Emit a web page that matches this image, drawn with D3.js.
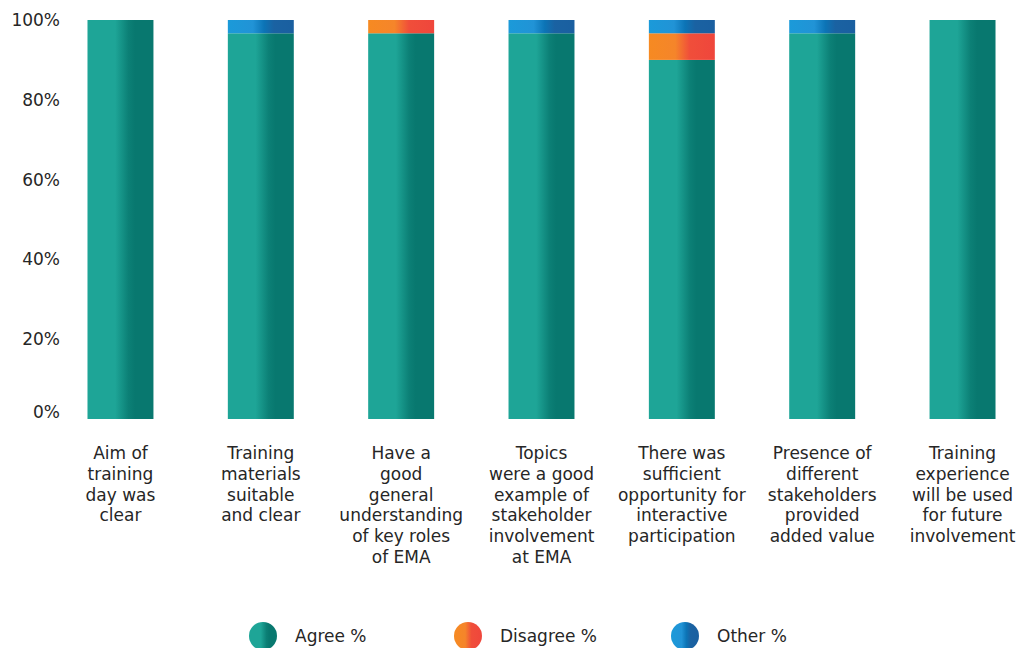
<!DOCTYPE html>
<html>
<head>
<meta charset="utf-8">
<script src="https://cdn.jsdelivr.net/npm/d3@7"></script>
<style>
  body { margin: 0; background: #fff; }
  text { font-family: "DejaVu Sans", Verdana, sans-serif; fill: #262626; }
</style>
</head>
<body>
<div id="chart"></div>
<script>
// categories (line breaks as in the picture)
const categories = [
    "Aim of\ntraining\nday was\nclear",
    "Training\nmaterials\nsuitable\nand clear",
    "Have a\ngood\ngeneral\nunderstanding\nof key roles\nof EMA",
    "Topics\nwere a good\nexample of\nstakeholder\ninvolvement\nat EMA",
    "There was\nsufficient\nopportunity for\ninteractive\nparticipation",
    "Presence of\ndifferent\nstakeholders\nprovided\nadded value",
    "Training\nexperience\nwill be used\nfor future\ninvolvement"
];
const seriesNames = ["Agree %", "Disagree %", "Other %"];
const agree    = [100, 96.67, 96.67, 96.67, 90, 96.67, 100];
const disagree = [0, 0, 3.33, 0, 6.67, 0, 0];
const other    = [0, 3.33, 0, 3.33, 3.33, 3.33, 0];
const yTicks = [0, 20, 40, 60, 80, 100];

// gradient stops per series (left to right)
const gradients = [
    [["0%", "#1ea597"], ["42%", "#1ea597"], ["62%", "#0c8076"], ["72%", "#08786f"], ["100%", "#08786f"]],
    [["0%", "#f68a22"], ["40%", "#f5852a"], ["62%", "#f04e3a"], ["100%", "#ef463c"]],
    [["0%", "#1b9ad9"], ["38%", "#2193d6"], ["55%", "#0c74b6"], ["70%", "#1a62a2"], ["100%", "#1a5fa0"]]
];

const width = 1019, height = 648;
const margin = { top: 20, right: 10, bottom: 229, left: 76 };

const svg = d3.select("#chart").append("svg")
    .attr("width", width)
    .attr("height", height);

const defs = svg.append("defs");
gradients.forEach((stops, i) => {
    const g = defs.append("linearGradient")
        .attr("id", "grad" + i)
        .attr("x1", "0%").attr("x2", "100%")
        .attr("y1", "0%").attr("y2", "0%");
    stops.forEach(s => g.append("stop").attr("offset", s[0]).attr("stop-color", s[1]));
});

const x = d3.scaleBand()
    .domain(d3.range(categories.length))
    .range([51, 1032])
    .paddingInner(0.53)
    .paddingOuter(0.26);

const y = d3.scaleLinear()
    .domain([0, 100])
    .range([height - margin.bottom, margin.top]);

// stacked data
const rows = categories.map((c, i) => ({ i, a: agree[i], d: disagree[i], o: other[i] }));
const stack = d3.stack().keys(["a", "d", "o"]);
const layers = stack(rows);

svg.append("g").selectAll("g")
    .data(layers)
    .join("g")
    .attr("fill", (d, i) => `url(#grad${i})`)
    .selectAll("rect")
    .data(d => d.filter(p => p[1] - p[0] > 0))
    .join("rect")
    .attr("x", d => x(d.data.i))
    .attr("width", x.bandwidth())
    .attr("y", d => y(d[1]))
    .attr("height", d => y(d[0]) - y(d[1]));

// y axis labels (no line)
const yAxis = svg.append("g")
    .attr("transform", `translate(60,0)`)
    .call(d3.axisLeft(y).tickValues(yTicks).tickFormat(d => d + "%").tickSize(0).tickPadding(0));
yAxis.select(".domain").remove();
yAxis.selectAll("text")
    .style("font-size", "17px")
    .attr("fill", "#262626")
    .attr("transform", d => d === 0 ? "translate(0,-7)" : null);

// category labels
const labels = svg.append("g").selectAll("text")
    .data(categories)
    .join("text")
    .attr("text-anchor", "middle")
    .style("font-size", "17px")
    .attr("transform", (d, i) => `translate(${x(i) + x.bandwidth() / 2},459)`);
labels.selectAll("tspan")
    .data(d => d.split("\n"))
    .join("tspan")
    .attr("x", 0)
    .attr("y", (d, j) => j * 20.8)
    .text(d => d);

// legend
const legendX = [263, 468, 685];
const legend = svg.append("g").selectAll("g")
    .data(seriesNames)
    .join("g")
    .attr("transform", (d, i) => `translate(${legendX[i]},636)`);
legend.append("circle")
    .attr("r", 14)
    .attr("fill", (d, i) => `url(#grad${i})`);
legend.append("text")
    .attr("x", 32)
    .attr("dy", "0.35em")
    .style("font-size", "17px")
    .text(d => d);
</script>
</body>
</html>
